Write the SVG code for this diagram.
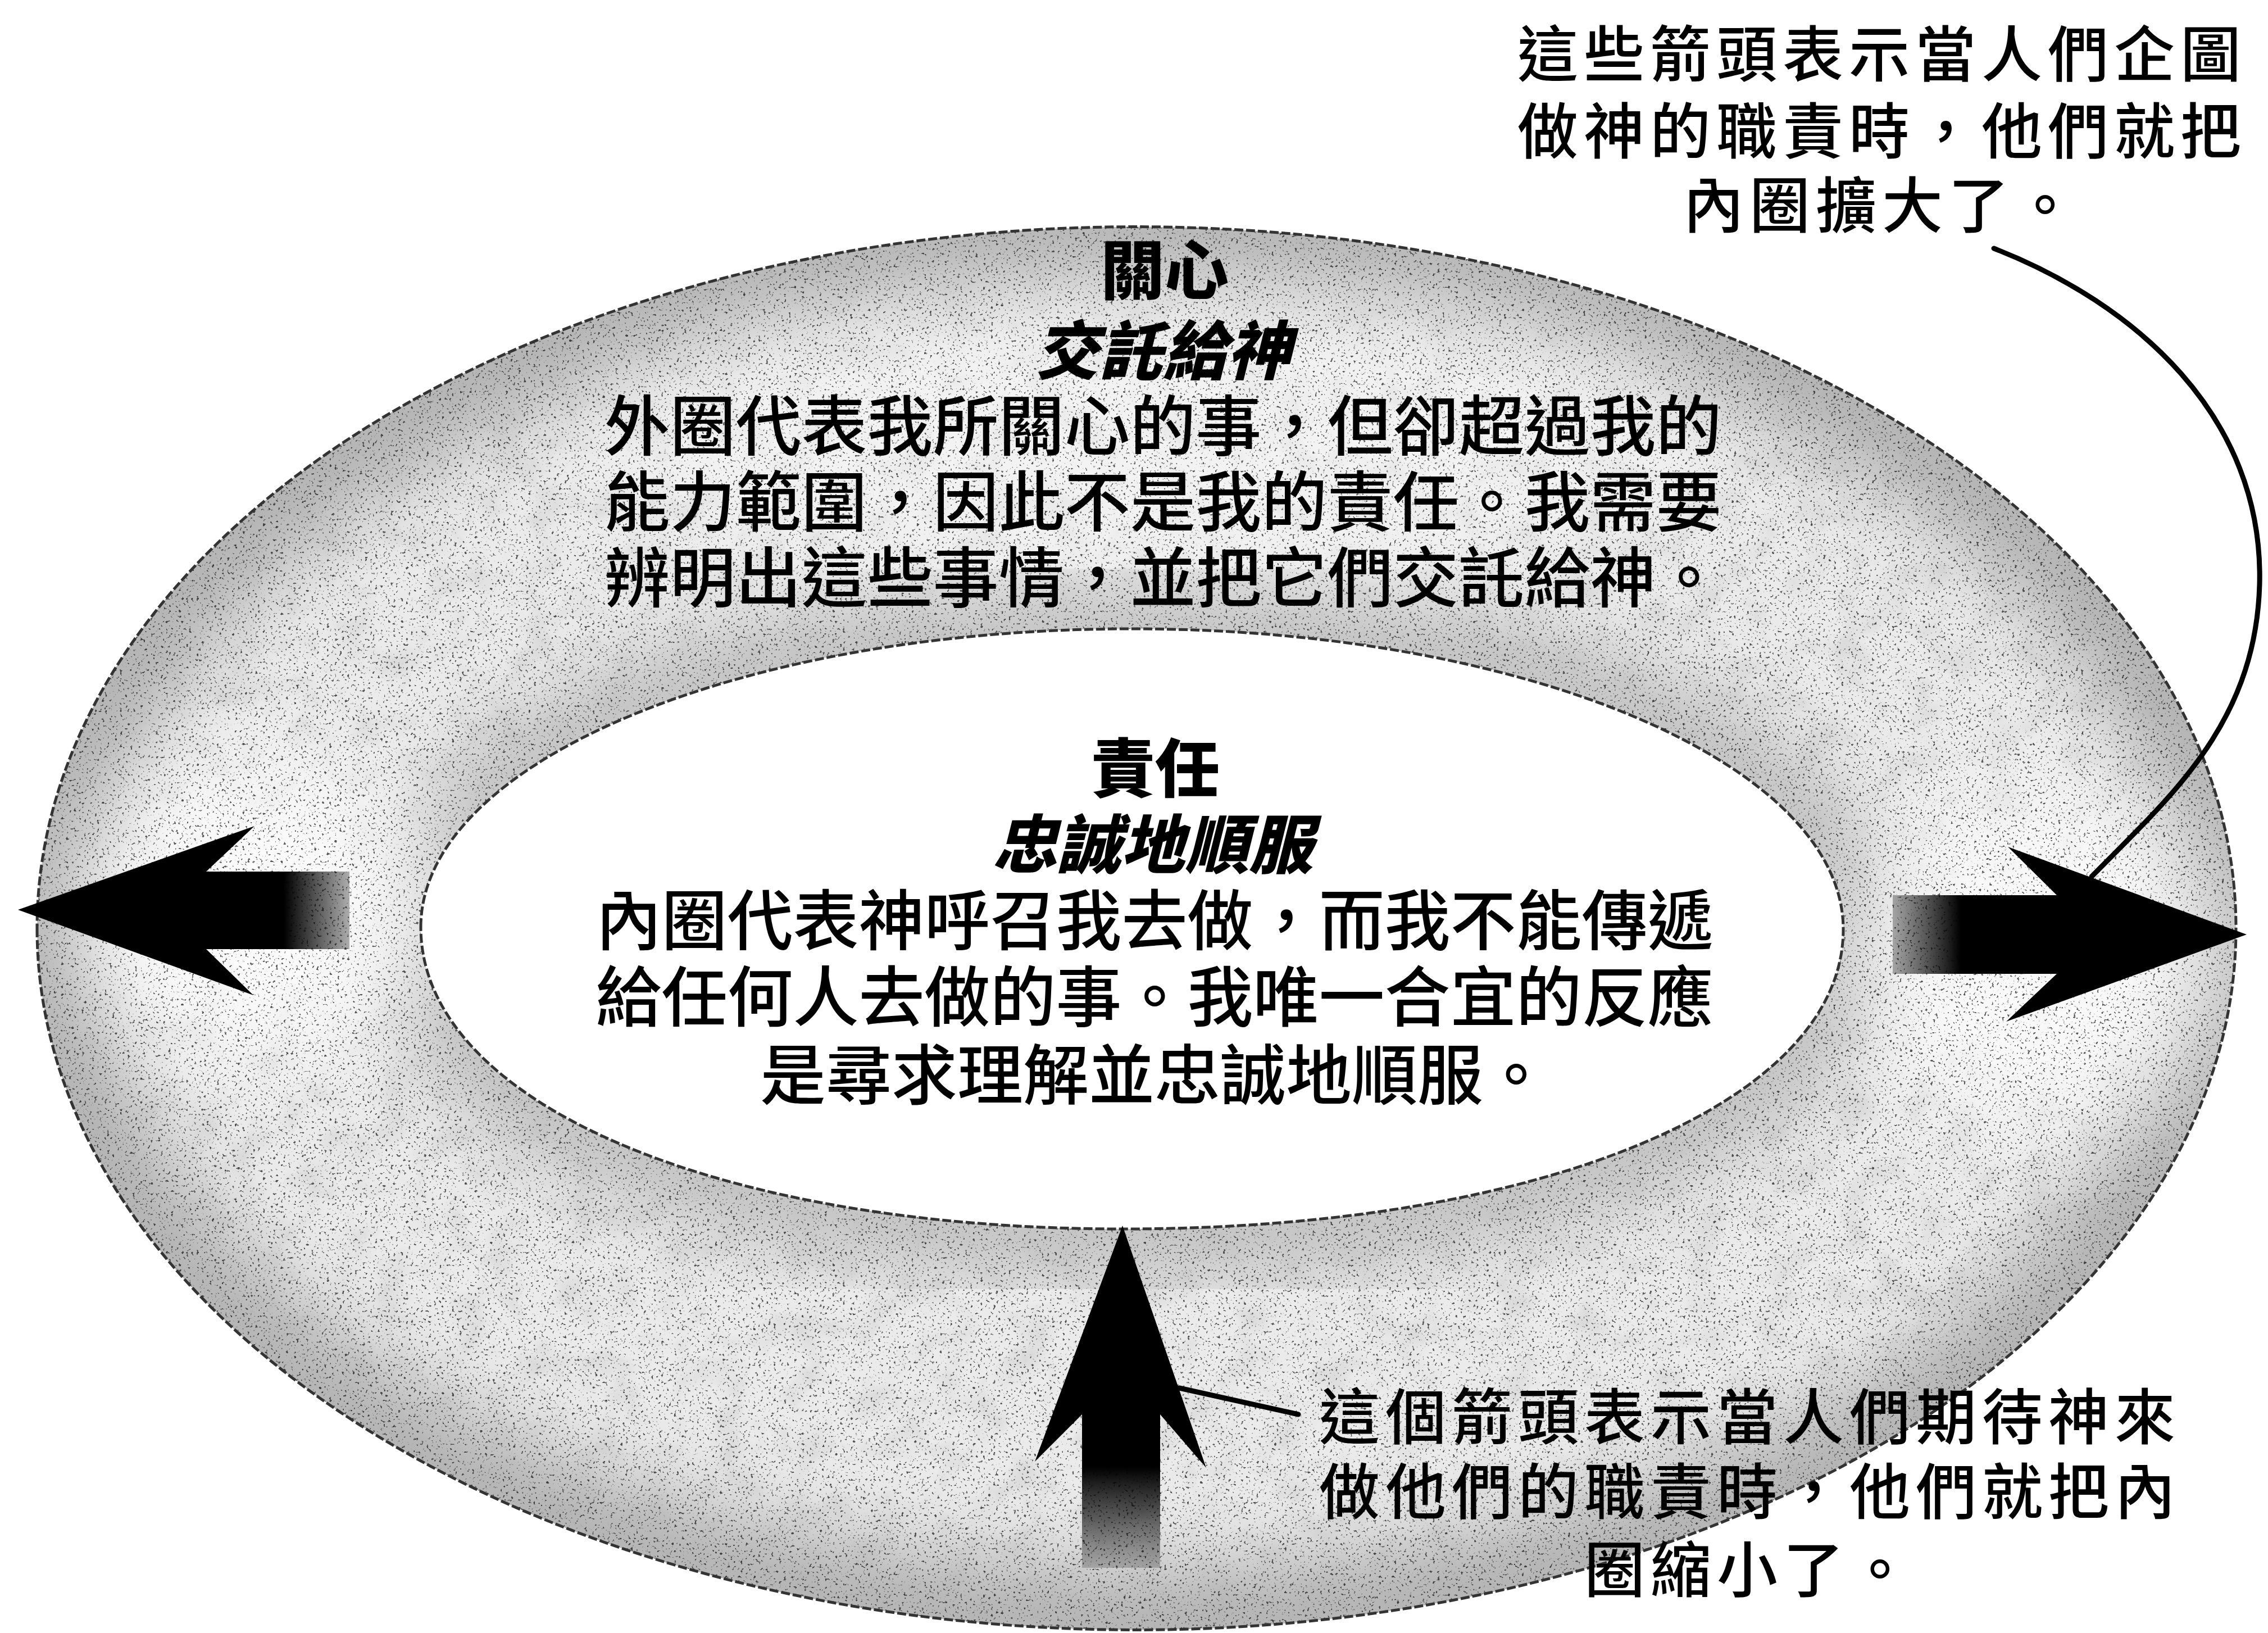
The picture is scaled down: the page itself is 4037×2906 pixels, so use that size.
<svg xmlns="http://www.w3.org/2000/svg" width="4037" height="2906" viewBox="0 0 4037 2906">
<style>
.t{font-family:"Noto Sans CJK TC","Noto Sans CJK SC",sans-serif;fill:#000}
.body{font-size:117px;font-weight:500;text-anchor:middle}
.head{font-size:114px;font-weight:900;text-anchor:middle}
.ital{font-size:114px;font-weight:900;font-style:italic;text-anchor:middle}
.note{font-size:108px;font-weight:500;letter-spacing:10px;text-anchor:middle}
.lead{fill:none;stroke:#000;stroke-width:9;stroke-linecap:round}
.edge{fill:none;stroke:#333;stroke-width:5;stroke-dasharray:16 5}
</style>
<defs>
<path id="outerP" d="M 66 1652 A 1957 1248 0 1 0 3980 1652 A 1957 1248 0 1 0 66 1652 Z"/>
<path id="innerP" d="M 749 1650 C 749 1357 1316 1119 2015 1119 C 2714 1119 3281 1359 3281 1654 C 3281 1963 2743 2187 2000 2187 C 1274 2187 749 1961 749 1650 Z"/>
<clipPath id="ringClip"><path clip-rule="evenodd" d="M 66 1652 A 1957 1248 0 1 0 3980 1652 A 1957 1248 0 1 0 66 1652 Z M 749 1650 C 749 1357 1316 1119 2015 1119 C 2714 1119 3281 1359 3281 1654 C 3281 1963 2743 2187 2000 2187 C 1274 2187 749 1961 749 1650 Z"/></clipPath>
<filter id="blurBig" x="-10%" y="-10%" width="120%" height="120%"><feGaussianBlur stdDeviation="70"/></filter>
<filter id="blurMid" x="-20%" y="-20%" width="140%" height="140%"><feGaussianBlur stdDeviation="90"/></filter>
<filter id="speck" filterUnits="userSpaceOnUse" x="0" y="0" width="4037" height="2906">
<feTurbulence type="fractalNoise" baseFrequency="0.22" numOctaves="2" seed="7" result="n"/>
<feColorMatrix in="n" type="matrix" values="0 0 0 0 0  0 0 0 0 0  0 0 0 0 0  10 0 0 0 -6.3"/>
</filter>
<filter id="mottle" filterUnits="userSpaceOnUse" x="0" y="0" width="4037" height="2906">
<feTurbulence type="fractalNoise" baseFrequency="0.015" numOctaves="3" seed="2" result="m"/>
<feColorMatrix in="m" type="matrix" values="0 0 0 0 0.55  0 0 0 0 0.55  0 0 0 0 0.55  1.0 0 0 0 -0.45"/>
</filter>
<linearGradient id="gLeft" gradientUnits="userSpaceOnUse" x1="622" y1="0" x2="505" y2="0">
<stop offset="0" stop-color="#000" stop-opacity="0.3"/><stop offset="1" stop-color="#000" stop-opacity="1"/>
</linearGradient>
<linearGradient id="gRight" gradientUnits="userSpaceOnUse" x1="3369" y1="0" x2="3490" y2="0">
<stop offset="0" stop-color="#000" stop-opacity="0.3"/><stop offset="1" stop-color="#000" stop-opacity="1"/>
</linearGradient>
<linearGradient id="gBottom" gradientUnits="userSpaceOnUse" x1="0" y1="2790" x2="0" y2="2610">
<stop offset="0" stop-color="#000" stop-opacity="0.2"/><stop offset="1" stop-color="#000" stop-opacity="1"/>
</linearGradient>
</defs>
<rect width="4037" height="2906" fill="#fff"/>

<g id="concern-ring">
<g clip-path="url(#ringClip)">
<rect width="4037" height="2906" fill="#ebebeb"/>
<rect width="4037" height="2906" filter="url(#mottle)"/>
<use href="#outerP" fill="none" stroke="#b0b0b0" stroke-width="220" filter="url(#blurBig)"/>
<use href="#innerP" fill="none" stroke="#bcbcbc" stroke-width="160" filter="url(#blurBig)"/>
<ellipse cx="470" cy="1620" rx="330" ry="260" fill="#fff" opacity="0.8" filter="url(#blurMid)"/>
<ellipse cx="3640" cy="1700" rx="330" ry="300" fill="#fff" opacity="0.75" filter="url(#blurMid)"/>
<ellipse cx="2060" cy="760" rx="1000" ry="260" fill="#fff" opacity="0.4" filter="url(#blurMid)"/>
<rect width="4037" height="2906" filter="url(#speck)" opacity="0.65"/>
</g>
<use href="#outerP" class="edge"/>
<text class="t head" x="2073" y="523">關心</text>
<text class="t ital" x="2070" y="666">交託給神</text>
<text class="t body" x="2070" y="801">外圈代表我所關心的事，但卻超過我的</text>
<text class="t body" x="2070" y="936">能力範圍，因此不是我的責任。我需要</text>
<text class="t body" x="2070" y="1071">辨明出這些事情，並把它們交託給神。</text>
</g>

<g id="responsibility-inner">
<use href="#innerP" fill="#fff"/>
<use href="#innerP" class="edge"/>
<text class="t head" x="2056" y="1409">責任</text>
<text class="t ital" x="2052" y="1545">忠誠地順服</text>
<text class="t body" x="2055" y="1681">內圈代表神呼召我去做，而我不能傳遞</text>
<text class="t body" x="2055" y="1817">給任何人去做的事。我唯一合宜的反應</text>
<text class="t body" x="2055" y="1956">是尋求理解並忠誠地順服。</text>
</g>

<g id="arrow-left">
<polygon points="32,1619 453,1470 367,1551 622,1551 622,1689 367,1689 451,1771" fill="url(#gLeft)"/>
</g>
<g id="arrow-right">
<polygon points="3999,1663 3574,1507 3661,1593 3369,1593 3369,1733 3661,1733 3571,1818" fill="url(#gRight)"/>
</g>
<g id="arrow-bottom">
<polygon points="1998,2181 2147,2612 2065,2517 2065,2790 1926,2790 1926,2517 1842,2601" fill="url(#gBottom)"/>
</g>

<g id="label-expand">
<text class="t note" x="3350" y="136">這些箭頭表示當人們企圖</text>
<text class="t note" x="3350" y="273">做神的職責時，他們就把</text>
<text class="t note" x="3350" y="405">內圈擴大了。</text>
</g>
<g id="label-shrink">
<text class="t note" x="3115" y="2561">這個箭頭表示當人們期待神來</text>
<text class="t note" x="3115" y="2694">做他們的職責時，他們就把內</text>
<text class="t note" x="3115" y="2833">圈縮小了。</text>
</g>

<g id="connectors">
<path class="lead" d="M 3549 442 C 3800 540 4030 740 4022 1040 C 4015 1290 3860 1420 3723 1560"/>
<path class="lead" d="M 2099 2470 L 2311 2517"/>
</g>
</svg>
